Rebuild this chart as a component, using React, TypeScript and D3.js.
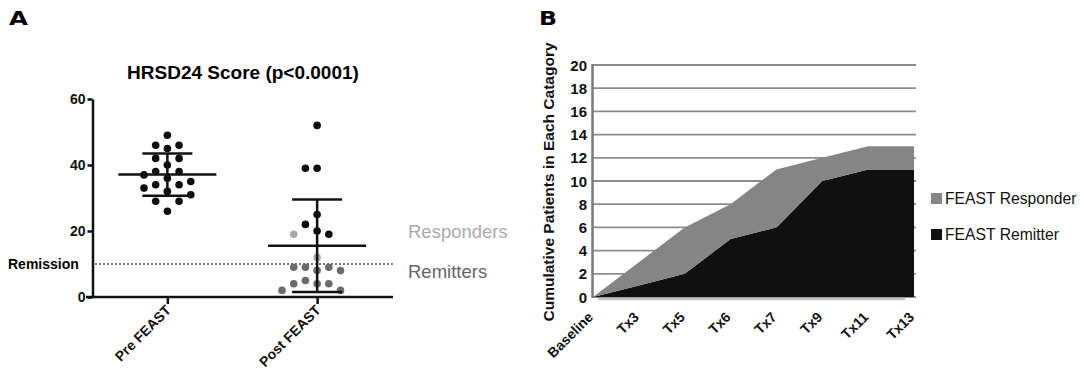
import React, { useEffect, useRef } from "react";
import * as d3 from "d3";

// Panel A: HRSD24 scores
const groupsA = ["Pre FEAST", "Post FEAST"];
const preScores = [49, 46, 46, 45, 42, 42, 40, 38, 38, 37, 36, 35, 34, 34, 33, 32, 31, 29, 29, 26];
const postScores = [52, 39, 39, 25, 22, 20, 19, 19, 12, 9, 9, 9, 8, 8, 5, 4, 4, 4, 2, 2];
const postStatus = ["non", "non", "non", "non", "non", "non", "non", "resp", "resp",
  "rem", "rem", "rem", "rem", "rem", "rem", "rem", "rem", "rem", "rem", "rem"];
const ticksA = [0, 20, 40, 60];
const remissionCut = 10;

// Panel B: cumulative patients
const visits = ["Baseline", "Tx3", "Tx5", "Tx6", "Tx7", "Tx9", "Tx11", "Tx13"];
const remitters = [0, 1, 2, 5, 6, 10, 11, 11];
const responders = [0, 2, 4, 3, 5, 2, 2, 2];
const ticksB = [0, 2, 4, 6, 8, 10, 12, 14, 16, 18, 20];

const FONT = "'Liberation Sans', Arial, Helvetica, sans-serif";
const statusColor = { non: "#0d0d0d", resp: "#a8a8a8", rem: "#6b6b6b" };

const App = () => {
  const svgRef = useRef(null);
  const width = 1080;
  const height = 376;

  useEffect(() => {
    const svg = d3.select(svgRef.current);
    svg.selectAll("*").remove();

    // ---------- Panel A ----------
    const yA = d3.scaleLinear().domain([0, 60]).range([297, 99]);
    const xA = d3.scalePoint().domain(groupsA).range([92.5, 392]).padding(0.5);
    const gA = svg.append("g");

    gA.append("text")
      .text("A")
      .attr("x", 9)
      .attr("y", 24.5)
      .attr("font-family", "'DejaVu Sans', sans-serif")
      .attr("font-weight", 900)
      .attr("font-size", 19)
      .attr("textLength", 19)
      .attr("lengthAdjust", "spacingAndGlyphs");

    gA.append("text")
      .text("HRSD24 Score (p<0.0001)")
      .attr("x", 243)
      .attr("y", 79)
      .attr("text-anchor", "middle")
      .attr("font-family", FONT)
      .attr("font-weight", "bold")
      .attr("font-size", 19);

    // remission line
    gA.append("line")
      .attr("x1", 95)
      .attr("x2", 393)
      .attr("y1", yA(remissionCut))
      .attr("y2", yA(remissionCut))
      .attr("stroke", "#444")
      .attr("stroke-width", 1.6)
      .attr("stroke-dasharray", "2,2");

    gA.append("text")
      .text("Remission")
      .attr("x", 8)
      .attr("y", yA(remissionCut) + 5)
      .attr("font-family", FONT)
      .attr("font-weight", "bold")
      .attr("font-size", 14);

    gA.append("text")
      .text("Responders")
      .attr("x", 408)
      .attr("y", yA(20) + 6.5)
      .attr("font-family", FONT)
      .attr("font-size", 18.5)
      .attr("fill", "#ababab");

    gA.append("text")
      .text("Remitters")
      .attr("x", 408)
      .attr("y", yA(remissionCut) - 2 + 16)
      .attr("font-family", FONT)
      .attr("font-size", 18.5)
      .attr("fill", "#666");

    // simple beeswarm
    const step = 11.7;
    const minDist = 11.6;
    const swarm = (values, cx) => {
      const placed = [];
      return values.map((v) => {
        const y = yA(v);
        const cands = [0];
        for (let k = 1; k <= 10; k++) cands.push((-k * step) / 2, (k * step) / 2);
        let off = 0;
        for (const c of cands) {
          if (placed.every((p) => Math.hypot(p.x - c, p.y - y) >= minDist)) {
            off = c;
            break;
          }
        }
        placed.push({ x: off, y });
        return { x: cx + off, y };
      });
    };

    const preXY = swarm(preScores, xA("Pre FEAST"));
    const postXY = swarm(postScores, xA("Post FEAST"));

    gA.selectAll(".pre")
      .data(preXY)
      .enter()
      .append("circle")
      .attr("cx", (d) => d.x)
      .attr("cy", (d) => d.y)
      .attr("r", 3.8)
      .attr("fill", "#0d0d0d");

    gA.selectAll(".post")
      .data(postXY)
      .enter()
      .append("circle")
      .attr("cx", (d) => d.x)
      .attr("cy", (d) => d.y)
      .attr("r", 3.8)
      .attr("fill", (d, i) => statusColor[postStatus[i]]);

    // mean +/- SD
    [preScores, postScores].forEach((vals, i) => {
      const cx = xA(groupsA[i]);
      const m = d3.mean(vals);
      const sd = d3.deviation(vals);
      const g = gA.append("g").attr("stroke", "#111").attr("stroke-width", 2.5);
      g.append("line").attr("x1", cx).attr("x2", cx).attr("y1", yA(m + sd)).attr("y2", yA(m - sd));
      g.append("line").attr("x1", cx - 49).attr("x2", cx + 49).attr("y1", yA(m)).attr("y2", yA(m));
      [m + sd, m - sd].forEach((v) => {
        g.append("line").attr("x1", cx - 25).attr("x2", cx + 25).attr("y1", yA(v)).attr("y2", yA(v));
      });
    });

    // axes
    const yAxisA = gA.append("g")
      .attr("transform", "translate(92.5,0)")
      .call(d3.axisLeft(yA).tickValues(ticksA).tickSize(5).tickSizeOuter(0).tickPadding(2));
    yAxisA.select(".domain").attr("stroke", "#111").attr("stroke-width", 2.5);
    yAxisA.selectAll(".tick line").attr("stroke", "#111").attr("stroke-width", 2.5);
    yAxisA.selectAll(".tick text")
      .attr("font-family", FONT)
      .attr("font-weight", "bold")
      .attr("font-size", 14)
      .attr("fill", "#111");

    gA.append("line")
      .attr("x1", 86)
      .attr("x2", 393)
      .attr("y1", 297)
      .attr("y2", 297)
      .attr("stroke", "#111")
      .attr("stroke-width", 2.5);

    const xAxisA = gA.append("g")
      .attr("transform", "translate(0,297)")
      .call(d3.axisBottom(xA).tickSize(7).tickSizeOuter(0));
    xAxisA.select(".domain").remove();
    xAxisA.selectAll(".tick line").attr("stroke", "#111").attr("stroke-width", 2.5);
    xAxisA.selectAll(".tick text")
      .attr("font-family", FONT)
      .attr("font-weight", "bold")
      .attr("font-size", 14)
      .attr("fill", "#111")
      .attr("text-anchor", "end")
      .attr("y", 0)
      .attr("dy", 0)
      .attr("transform", "translate(4,14) rotate(-45)");

    // ---------- Panel B ----------
    const yB = d3.scaleLinear().domain([0, 20]).range([297, 65]);
    const xB = d3.scalePoint().domain(visits).range([593, 914]);
    const gB = svg.append("g");

    gB.append("text")
      .text("B")
      .attr("x", 539)
      .attr("y", 25)
      .attr("font-family", "'DejaVu Sans', sans-serif")
      .attr("font-weight", 900)
      .attr("font-size", 19)
      .attr("textLength", 18)
      .attr("lengthAdjust", "spacingAndGlyphs");

    gB.append("text")
      .text("Cumulative Patients in Each Catagory")
      .attr("transform", "translate(554,182) rotate(-90)")
      .attr("text-anchor", "middle")
      .attr("font-family", FONT)
      .attr("font-weight", "bold")
      .attr("font-size", 15.5)
      .attr("fill", "#111");

    // gridlines
    gB.selectAll(".grid")
      .data(ticksB)
      .enter()
      .append("line")
      .attr("x1", 593)
      .attr("x2", 916)
      .attr("y1", (d) => yB(d))
      .attr("y2", (d) => yB(d))
      .attr("stroke", "#8c8c8c")
      .attr("stroke-width", 1.8);

    // shadow under area
    gB.append("line")
      .attr("x1", 598)
      .attr("x2", 905)
      .attr("y1", yB(0) + 2)
      .attr("y2", yB(0) + 2)
      .attr("stroke", "#c4c4c4")
      .attr("stroke-width", 2.5);

    const table = visits.map((v, i) => ({ visit: v, remitter: remitters[i], responder: responders[i] }));
    const stack = d3.stack().keys(["remitter", "responder"])(table);
    const area = d3.area()
      .x((d) => xB(d.data.visit))
      .y0((d) => yB(d[0]))
      .y1((d) => yB(d[1]));
    const areaColors = { remitter: "#101010", responder: "#858585" };

    gB.selectAll(".layer")
      .data(stack)
      .enter()
      .append("path")
      .attr("d", area)
      .attr("fill", (d) => areaColors[d.key]);

    // left axis line
    gB.append("line")
      .attr("x1", 592.5)
      .attr("x2", 592.5)
      .attr("y1", yB(20) - 1)
      .attr("y2", yB(0) + 1)
      .attr("stroke", "#7a7a7a")
      .attr("stroke-width", 2.5);

    gB.selectAll(".ytick")
      .data(ticksB)
      .enter()
      .append("text")
      .text((d) => d)
      .attr("x", 587)
      .attr("y", (d) => yB(d) + 5.5)
      .attr("text-anchor", "end")
      .attr("font-family", FONT)
      .attr("font-weight", "bold")
      .attr("font-size", 15)
      .attr("fill", "#111");

    gB.selectAll(".xtick")
      .data(visits)
      .enter()
      .append("text")
      .text((d) => d)
      .attr("text-anchor", "end")
      .attr("transform", (d) => `translate(${xB(d) + 1},318) rotate(-45)`)
      .attr("font-family", FONT)
      .attr("font-weight", "bold")
      .attr("font-size", 14)
      .attr("fill", "#111");

    // legend
    const legend = [
      { label: "FEAST Responder", color: areaColors.responder },
      { label: "FEAST Remitter", color: areaColors.remitter },
    ];
    const lg = gB.selectAll(".legend")
      .data(legend)
      .enter()
      .append("g")
      .attr("transform", (d, i) => `translate(931,${193 + i * 36})`);
    lg.append("rect").attr("width", 11).attr("height", 11).attr("fill", (d) => d.color);
    lg.append("text")
      .text((d) => d.label)
      .attr("x", 14)
      .attr("y", 11)
      .attr("font-family", FONT)
      .attr("font-size", 15.7)
      .attr("fill", "#111");
  }, []);

  return (
    <svg
      ref={svgRef}
      width={width}
      height={height}
      style={{ position: "absolute", left: 0, top: 0, background: "#fff" }}
    />
  );
};

export default App;
